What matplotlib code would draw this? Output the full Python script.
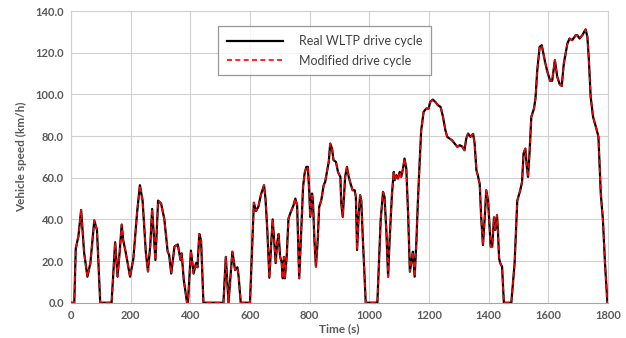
import matplotlib
matplotlib.use("Agg")
import matplotlib.pyplot as plt
from matplotlib.ticker import FormatStrFormatter

# Time (s) and vehicle speed (km/h)
time_s = [0, 7, 11, 16, 25, 34, 44, 55, 65, 78, 87, 98, 136, 148, 156, 163, 170, 175,
          183, 198, 209, 222, 231, 240, 251, 258, 266, 272, 283, 292, 302, 313, 324,
          329, 336, 347, 358, 367, 371, 378, 389, 392, 402, 411, 419, 424, 430, 436,
          444, 511, 519, 528, 541, 550, 558, 562, 569, 600, 613, 620, 628, 637, 647,
          652, 658, 665, 671, 676, 681, 686, 691, 696, 701, 706, 710, 714, 717, 723,
          729, 737, 746, 752, 758, 765, 772, 778, 783, 789, 794, 799, 802, 808, 811,
          816, 821, 827, 832, 839, 847, 852, 858, 864, 869, 875, 880, 888, 895, 903,
          906, 911, 915, 919, 925, 931, 937, 944, 951, 955, 959, 964, 969, 973, 978,
          983, 988, 1027, 1031, 1038, 1046, 1051, 1057, 1063, 1068, 1076, 1082, 1085,
          1091, 1096, 1102, 1107, 1113, 1118, 1124, 1130, 1136, 1141, 1146, 1152,
          1158, 1163, 1169, 1174, 1182, 1191, 1199, 1204, 1213, 1221, 1230, 1239,
          1247, 1255, 1261, 1269, 1277, 1286, 1295, 1303, 1311, 1319, 1325, 1331,
          1339, 1348, 1353, 1359, 1364, 1370, 1375, 1381, 1387, 1392, 1398, 1403,
          1407, 1412, 1418, 1422, 1428, 1431, 1435, 1439, 1445, 1451, 1476, 1487,
          1496, 1506, 1512, 1517, 1523, 1528, 1532, 1537, 1543, 1552, 1557, 1563,
          1571, 1578, 1589, 1597, 1606, 1613, 1622, 1630, 1638, 1645, 1652, 1664,
          1671, 1680, 1692, 1697, 1705, 1714, 1725, 1731, 1736, 1742, 1750, 1761,
          1768, 1776, 1783, 1790, 1798, 1800]
real_speed = [0, 0, 0, 26, 32, 44.5, 24, 12.5, 19, 39.5, 35, 0, 0, 29, 12.5, 24, 37.5, 30,
              24.5, 12.5, 21, 44, 56.4, 49, 24, 15, 28, 45, 20.5, 49, 47.6, 40, 24.5,
              23, 14, 27, 28, 20.5, 23.7, 11, 0, 0, 25, 14, 19, 17, 33, 30,
              0, 0, 22, 0, 24.5, 15.7, 17, 12.5, 0, 0, 48, 44, 46, 52, 56.4,
              50, 35, 12, 28, 40, 30, 19, 28.5, 33, 22, 19.7, 11.7, 22, 11.7, 22,
              40.4, 43.6, 46.8, 50, 46.8, 11.7, 35, 55.6, 62, 65.2, 65.2, 52.4, 41.2, 52.4, 49.2,
              30, 17.3, 30, 46, 49.2, 56.4, 58, 62.8, 67.6, 76.4, 74, 68.4, 67.6, 62.8, 60.4,
              47.6, 41.2, 50.8, 60.4, 65.2, 60.4, 57.2, 54, 54, 50.8, 25.3, 41.2, 51.6, 49.2, 31.7,
              15.7, 0, 0, 14, 39.6, 53.2, 50.8, 34.9, 12.5, 30, 52.4, 62.8, 58.8,
              61.2, 59.6, 62.8, 60.4, 64.4, 69.2, 64.4, 42.8, 14.9, 19.7, 24.5, 12.5,
              30, 49.2, 68.4, 82.8, 91.6, 93.2, 93.2, 96.4, 97.5, 96.4, 94.8, 94,
              89.2, 82.8, 79.6, 78.8, 78, 76.4, 74.8, 75.6, 75, 73.2, 78.8, 81.2,
              79.6, 81, 76.4, 63.6, 61, 57, 41, 27.7, 41, 54, 49, 36.5,
              26.9, 26.9, 41, 34.9, 42, 34.9, 21.3, 18.9, 17.3, 0, 0, 18.9,
              49, 54, 58, 71.6, 74, 65.2, 60.4, 71.6, 89.2, 93.2, 98, 111.6,
              122.8, 123.6, 115.6, 110.8, 106.5, 106.5, 116.4, 108.4, 104.9, 104, 114.8, 124.4,
              126.8, 126, 128.4, 128.4, 126.8, 128.4, 131.2, 127.6, 116.4, 98.8, 89.2, 83.6,
              79.6, 52, 40, 19, 0, 0]
modified_speed = list(real_speed)

series_labels = ["Real WLTP drive cycle", "Modified drive cycle"]
x_ticks = [0, 200, 400, 600, 800, 1000, 1200, 1400, 1600, 1800]
y_ticks = [0, 20, 40, 60, 80, 100, 120, 140]

plt.rcParams["font.family"] = ["Lato", "DejaVu Sans"]
txt = "#595959"
fig = plt.figure(figsize=(6.26, 3.38), dpi=100)
ax = fig.add_axes([0.1134, 0.1044, 0.8578, 0.8630])

ax.plot(time_s, real_speed, color="black", lw=1.6, label=series_labels[0], zorder=3)
ax.plot(time_s, modified_speed, color="#ff0000", lw=1.2, ls=(0, (3, 2)),
        label=series_labels[1], zorder=4)

ax.set_xlim(0, 1800)
ax.set_ylim(0, 140)
ax.set_xticks(x_ticks)
ax.set_yticks(y_ticks)
ax.yaxis.set_major_formatter(FormatStrFormatter("%.1f"))
ax.grid(True, color="#d0d0d0", lw=0.8)
ax.set_axisbelow(True)
for s in ax.spines.values():
    s.set_color("#d0d0d0")
    s.set_linewidth(0.8)
ax.spines["bottom"].set_color("#a6a6a6")
ax.tick_params(length=0, pad=5, labelsize=8, labelcolor=txt)
for lab in ax.get_xticklabels() + ax.get_yticklabels():
    lab.set_fontweight("bold")
ax.set_xlabel("Time (s)", fontsize=8.5, fontweight="bold", color=txt, labelpad=2)
ax.set_ylabel("Vehicle speed (km/h)", fontsize=8.5, fontweight="bold", color=txt, labelpad=6)

leg = ax.legend(loc="upper left", bbox_to_anchor=(0.348, 0.922),
                bbox_transform=fig.transFigure, fontsize=9, frameon=True,
                fancybox=False, shadow=False, handlelength=4.5, borderpad=0.7,
                labelspacing=0.6, handletextpad=1.3, borderaxespad=0)
leg.get_frame().set_edgecolor("#7f7f7f")
leg.get_frame().set_linewidth(0.9)
for t in leg.get_texts():
    t.set_color("#404040")

fig.savefig("out.png", dpi=100)
